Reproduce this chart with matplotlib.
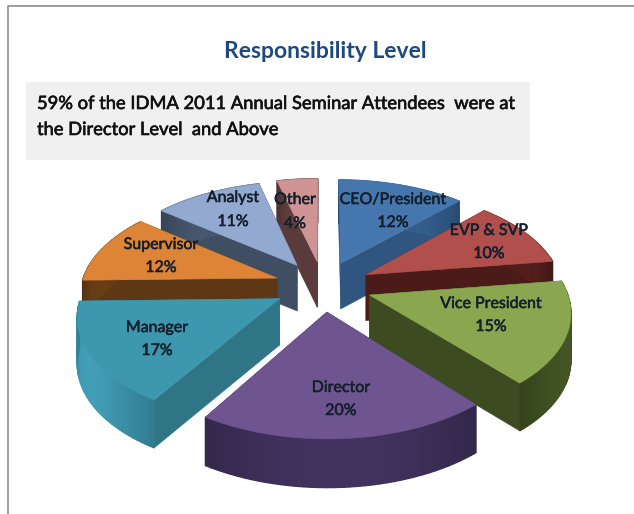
import numpy as np
import matplotlib
matplotlib.use("Agg")
import matplotlib.pyplot as plt
import matplotlib.patheffects as pe
from matplotlib.patches import Polygon, Rectangle

categories = ["CEO/President", "EVP & SVP", "Vice President", "Director", "Manager", "Supervisor", "Analyst", "Other"]
values = [12, 10, 15, 20, 17, 12, 11, 4]
title = "Responsibility Level"
note = ["59% of the IDMA 2011 Annual Seminar Attendees  were at", "the Director Level  and Above"]
top_colors = ["#4577ae", "#b04f4c", "#8aa64e", "#6f5590", "#3d97ae", "#de8436", "#93a9d0", "#cf9493"]
side_colors = ["#2f5580", "#4a1b18", "#3c4c20", "#35294f", "#2f7585", "#5e3814", "#3f4e63", "#5a3a3a"]
outer_colors = ["#2f5580", "#4a1b18", "#3c4c20", "#3a2d55", "#3a8da3", "#5e3814", "#3f4e63", "#5a3a3a"]

CX, CY, RX, KY, P, H, EXPL = 323, 286, 196, 101, 0.14, 46, 0.25
VIEW_SKEW = np.radians(4.5)
order = [7, 0, 6, 1, 5, 2, 4, 3]


def project(x, y, drop=0.0):
    s = 1 / (1 + P * y)
    return np.column_stack([CX + RX * x * s, CY - KY * y * s + drop * s ** 0.3])


def shade(c, f):
    rgb = np.array(matplotlib.colors.to_rgb(c))
    return tuple(np.clip(rgb * f, 0, 1))


plt.rcParams["font.family"] = ["Lato", "DejaVu Sans"]
fig = plt.figure(figsize=(6.34, 5.14), dpi=100)
ax = fig.add_axes([0, 0, 1, 1])
ax.set_xlim(0, 634)
ax.set_ylim(514, 0)
ax.axis("off")

ax.plot([8, 8, 634], [514, 6, 6], color="#8c8c8c", lw=1.2)
ax.add_patch(Rectangle((26, 82), 504, 78, fc="#f0f0f0", ec="none"))
ax.text(325, 51, title, color="#1f497d", fontsize=16.5, fontweight="bold", ha="center", va="center")


def heavy(c, w=0.45):
    return [pe.withStroke(linewidth=w, foreground=c)]


ax.text(37, 104, note[0], color="#111111", fontsize=13.2, va="center", path_effects=heavy("#111111"))
ax.text(37, 130, note[1], color="#111111", fontsize=13.2, va="center", path_effects=heavy("#111111"))

total = sum(values)
edges = np.concatenate([[0], np.cumsum(values)]) / total * 2 * np.pi
edges = edges + VIEW_SKEW * (1 - np.cos(edges))
for z, i in enumerate(order):
    a0, a1 = edges[i], edges[i + 1]
    mid = (a0 + a1) / 2
    ox, oy = EXPL * np.sin(mid), EXPL * np.cos(mid)
    th = np.linspace(a0, a1, 40)
    rx, ry = ox + np.sin(th), oy + np.cos(th)
    rim = project(rx, ry)
    rim_low = project(rx, ry, H)
    apex = project(np.array([ox]), np.array([oy]))
    apex_low = project(np.array([ox]), np.array([oy]), H)
    zo = 2 + z
    for e, el in ((rim[0], rim_low[0]), (rim[-1], rim_low[-1])):
        ax.add_patch(Polygon([apex[0], e, el, apex_low[0]], fc=side_colors[i], ec=side_colors[i], lw=0.4, zorder=zo))
    for k in range(len(th) - 1):
        f = 0.88 + 0.24 * np.sin(k / (len(th) - 1) * np.pi)
        c = shade(outer_colors[i], f)
        ax.add_patch(Polygon([rim[k], rim[k + 1], rim_low[k + 1], rim_low[k]], fc=c, ec=c, lw=0.9, zorder=zo))
    ax.add_patch(Polygon(np.vstack([apex, rim]), fc=top_colors[i], ec=top_colors[i], lw=0.4, zorder=zo + 0.5))

label_pos = [(393, 200, 223), (489, 231, 254), (491, 304, 327), (341, 388, 411),
             (157, 328, 351), (161, 245, 268), (233, 198, 222), (295, 200, 224)]
for name, v, (x, y1, y2) in zip(categories, values, label_pos):
    for s, y in ((name, y1), (f"{v}%", y2)):
        ax.text(x, y, s, color="#14202c", fontsize=11.5, ha="center", va="center", zorder=20,
                path_effects=heavy("#14202c", 0.4))

fig.savefig("out.png", dpi=100)
